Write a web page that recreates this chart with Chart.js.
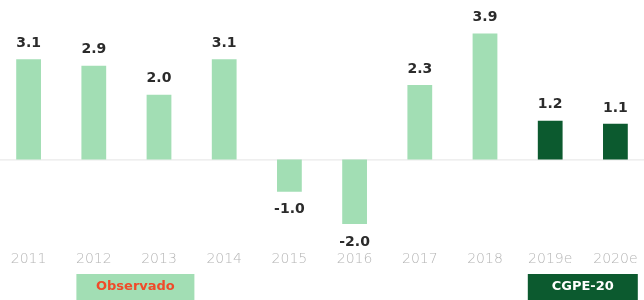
<!DOCTYPE html>
<html>
<head>
<meta charset="utf-8">
<script src="https://cdn.jsdelivr.net/npm/chart.js@4.4.0/dist/chart.umd.min.js"></script>
<style>
  html, body { margin: 0; padding: 0; background: #fff; overflow: hidden; }
  #wrap { position: relative; width: 652px; height: 300px; margin-left: -4px; }
</style>
</head>
<body>
<div id="wrap"><canvas id="growthChart"></canvas></div>
<script>
// years and growth values (%)
const years = ['2011', '2012', '2013', '2014', '2015', '2016', '2017', '2018', '2019e', '2020e'];
const growth = [3.1, 2.9, 2.0, 3.1, -1.0, -2.0, 2.3, 3.9, 1.2, 1.1];
const isForecast = [false, false, false, false, false, false, false, false, true, true];

// legend tags under the axis: which categories they sit under
const tagLabels = ['Observado', 'CGPE-20'];
const tagFrom = [1, 8];
const tagTo = [2, 9];

const lightGreen = '#a2deb4';
const darkGreen = '#0c5a2f';

// zero line + value labels
const valueLabels = {
    id: 'valueLabels',
    beforeDatasetsDraw(chart) {
        const ctx = chart.ctx;
        const y0 = chart.scales.y.getPixelForValue(0);
        ctx.save();
        ctx.strokeStyle = '#e4e4e4';
        ctx.lineWidth = 1;
        ctx.beginPath();
        ctx.moveTo(0, y0 + 0.5);
        ctx.lineTo(chart.width, y0 + 0.5);
        ctx.stroke();
        ctx.restore();
    },
    afterDatasetsDraw(chart) {
        const ctx = chart.ctx;
        const meta = chart.getDatasetMeta(0);
        ctx.save();
        ctx.font = 'bold 14px "DejaVu Sans"';
        ctx.fillStyle = '#2b2b2b';
        ctx.textAlign = 'center';
        ctx.textBaseline = 'middle';
        meta.data.forEach((bar, i) => {
            const v = growth[i];
            const y = v >= 0 ? bar.y - 16 : bar.y + 18;
            ctx.fillText(v.toFixed(1), bar.x, y);
        });
        ctx.restore();
    }
};

// the two coloured tags at the bottom
const tagBoxes = {
    id: 'tagBoxes',
    afterDraw(chart) {
        const ctx = chart.ctx;
        const x = chart.scales.x;
        ctx.save();
        ctx.textAlign = 'center';
        ctx.textBaseline = 'middle';
        tagLabels.forEach((t, i) => {
            let cx = (x.getPixelForValue(tagFrom[i]) + x.getPixelForValue(tagTo[i])) / 2;
            if (i === 0) cx += 9;
            const w = i === 0 ? 118 : 110;
            const top = chart.height - 26;
            ctx.fillStyle = i === 0 ? lightGreen : darkGreen;
            ctx.fillRect(cx - w / 2, top, w, 30);
            ctx.font = 'bold 13px "DejaVu Sans"';
            ctx.fillStyle = i === 0 ? '#f04a2a' : '#ffffff';
            ctx.fillText(t, cx, top + 13);
        });
        ctx.restore();
    }
};

const ctx = document.getElementById('growthChart').getContext('2d');
const growthChart = new Chart(ctx, {
    type: 'bar',
    data: {
        labels: years,
        datasets: [{
            data: growth,
            backgroundColor: isForecast.map(f => f ? darkGreen : lightGreen),
            barPercentage: 0.38,
            categoryPercentage: 1
        }]
    },
    options: {
        responsive: true,
        maintainAspectRatio: false,
        animation: false,
        layout: { padding: { top: 14, bottom: 29, left: 0, right: 0 } },
        plugins: {
            legend: { display: false },
            tooltip: { enabled: false }
        },
        scales: {
            x: {
                grid: { display: false },
                border: { display: false },
                ticks: {
                    color: '#b5b5b5',
                    padding: 3,
                    font: { family: 'DejaVu Sans', size: 14, weight: '200' }
                }
            },
            y: {
                display: false,
                min: -2.5,
                max: 4.5
            }
        }
    },
    plugins: [valueLabels, tagBoxes]
});
</script>
</body>
</html>
